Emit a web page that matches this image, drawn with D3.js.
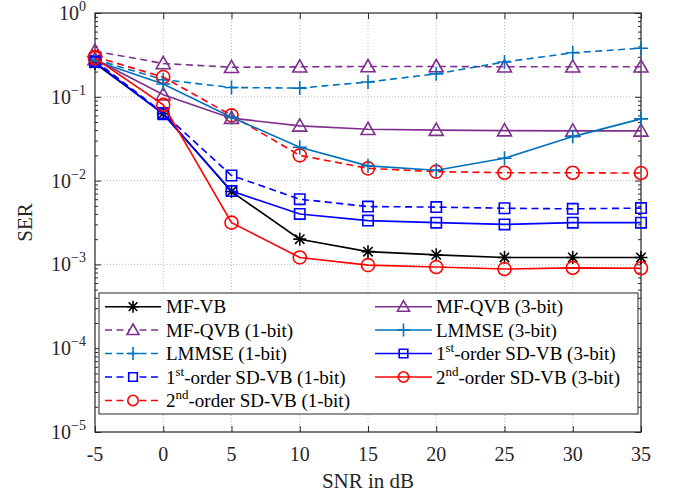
<!DOCTYPE html>
<html><head><meta charset="utf-8">
<script src="https://cdn.jsdelivr.net/npm/d3@7"></script>
<style>
html,body{margin:0;padding:0;background:#fff;}
svg, svg text{font-family:"Liberation Serif","DejaVu Serif","Times New Roman",Times,serif;}
</style></head>
<body><svg id="chart" width="677" height="493"></svg>
<script>
// ---- data ----
const snr = [-5, 0, 5, 10, 15, 20, 25, 30, 35];
const xTicks = [-5, 0, 5, 10, 15, 20, 25, 30, 35];
const yTickExps = [0, -1, -2, -3, -4, -5];

const mfVB        = [0.25, 0.063, 0.0074, 0.0020, 0.00142, 0.0013, 0.00121, 0.00121, 0.00121];
const mfQVB1      = [0.35, 0.25, 0.225, 0.228, 0.230, 0.230, 0.228, 0.228, 0.228];
const lmmse1      = [0.28, 0.16, 0.129, 0.127, 0.150, 0.188, 0.26, 0.335, 0.38];
const sd1_1       = [0.27, 0.064, 0.0115, 0.0060, 0.0049, 0.00483, 0.00468, 0.0046, 0.0047];
const sd2_1       = [0.30, 0.172, 0.060, 0.0200, 0.0140, 0.0128, 0.0124, 0.0124, 0.0123];
const mfQVB3      = [0.28, 0.106, 0.0556, 0.045, 0.041, 0.040, 0.0395, 0.0392, 0.0392];
const lmmse3      = [0.27, 0.142, 0.057, 0.0250, 0.0150, 0.0133, 0.0185, 0.0335, 0.0545];
const sd1_3       = [0.26, 0.062, 0.0075, 0.0040, 0.00333, 0.00315, 0.00300, 0.00315, 0.00315];
const sd2_3       = [0.29, 0.080, 0.00315, 0.00121, 0.00098, 0.00093, 0.00088, 0.00091, 0.00090];

const series = [
  {name:"MF-VB", values:mfVB, color:"#000000", dash:false, marker:"star"},
  {name:"MF-QVB (1-bit)", values:mfQVB1, color:"#7E2F8E", dash:true, marker:"tri"},
  {name:"LMMSE (1-bit)", values:lmmse1, color:"#0072BD", dash:true, marker:"plus"},
  {name:"1|st|-order SD-VB (1-bit)", values:sd1_1, color:"#0000FF", dash:true, marker:"square"},
  {name:"2|nd|-order SD-VB (1-bit)", values:sd2_1, color:"#FF0000", dash:true, marker:"circle"},
  {name:"MF-QVB (3-bit)", values:mfQVB3, color:"#7E2F8E", dash:false, marker:"tri"},
  {name:"LMMSE (3-bit)", values:lmmse3, color:"#0072BD", dash:false, marker:"plus"},
  {name:"1|st|-order SD-VB (3-bit)", values:sd1_3, color:"#0000FF", dash:false, marker:"square"},
  {name:"2|nd|-order SD-VB (3-bit)", values:sd2_3, color:"#FF0000", dash:false, marker:"circle"}
];

// ---- layout ----
const FONT = "'Liberation Serif','DejaVu Serif','Times New Roman',Times,serif";
const L = 95, R = 641, T = 13, B = 432;
const svg = d3.select("#chart");
const x = d3.scaleLinear().domain([-5, 35]).range([L, R]);
const y = d3.scaleLog().domain([1e-5, 1]).range([B, T]);

// grid
const grid = svg.append("g");
xTicks.slice(1, -1).forEach(t => {
  grid.append("line").attr("x1", x(t)).attr("x2", x(t)).attr("y1", T).attr("y2", B)
    .attr("stroke", "#bdbdbd").attr("stroke-width", 1).attr("stroke-dasharray", "1,2");
});
yTickExps.slice(1, -1).forEach(e => {
  grid.append("line").attr("x1", L).attr("x2", R).attr("y1", y(Math.pow(10, e))).attr("y2", y(Math.pow(10, e)))
    .attr("stroke", "#bdbdbd").attr("stroke-width", 1).attr("stroke-dasharray", "1,2");
});

// axes with inward ticks
const majorY = yTickExps.map(e => Math.pow(10, e));
const minorY = [];
for (let e = -5; e < 0; e++) for (let m = 2; m <= 9; m++) minorY.push(m * Math.pow(10, e));

function styleAxis(g) {
  g.select(".domain").remove();
  g.selectAll(".tick line").attr("stroke", "#262626").attr("stroke-width", 1);
  g.selectAll("text").remove();
}
svg.append("g").attr("transform", `translate(0,${B})`)
  .call(d3.axisBottom(x).tickValues(xTicks).tickSize(-6)).call(styleAxis);
svg.append("g").attr("transform", `translate(0,${T})`)
  .call(d3.axisTop(x).tickValues(xTicks).tickSize(-6)).call(styleAxis);
svg.append("g").attr("transform", `translate(${L},0)`)
  .call(d3.axisLeft(y).tickValues(majorY).tickSize(-6)).call(styleAxis);
svg.append("g").attr("transform", `translate(${L},0)`)
  .call(d3.axisLeft(y).tickValues(minorY).tickSize(-3)).call(styleAxis);
svg.append("g").attr("transform", `translate(${R},0)`)
  .call(d3.axisRight(y).tickValues(majorY).tickSize(-6)).call(styleAxis);
svg.append("g").attr("transform", `translate(${R},0)`)
  .call(d3.axisRight(y).tickValues(minorY).tickSize(-3)).call(styleAxis);

svg.append("rect").attr("x", L).attr("y", T).attr("width", R - L).attr("height", B - T)
  .attr("fill", "none").attr("stroke", "#262626").attr("stroke-width", 1.2);

// tick labels
xTicks.forEach(t => {
  svg.append("text").attr("x", x(t)).attr("y", 461).attr("text-anchor", "middle")
    .attr("font-family", FONT).attr("font-size", 20).attr("fill", "#262626").text(t);
});
yTickExps.forEach(e => {
  const tx = svg.append("text").attr("x", 86).attr("y", y(Math.pow(10, e)) + 7)
    .attr("text-anchor", "end").attr("fill", "#262626").attr("font-size", 20).attr("font-family", FONT);
  tx.append("tspan").text("10");
  tx.append("tspan").attr("font-size", 14).attr("dy", -9).text(e === 0 ? "0" : "\u2212" + (-e));
});
svg.append("text").attr("x", (L + R) / 2).attr("y", 488).attr("text-anchor", "middle")
  .attr("font-family", FONT).attr("font-size", 21).attr("fill", "#262626").text("SNR in dB");
svg.append("text").attr("transform", `translate(32,${(T + B) / 2}) rotate(-90)`)
  .attr("font-family", FONT).attr("text-anchor", "middle").attr("font-size", 21).attr("fill", "#262626").text("SER");

// markers
function markerPath(type, s) {
  switch (type) {
    case "plus": return `M${-s},0H${s}M0,${-s}V${s}`;
    case "star": { const d = s * 0.72; return `M${-s},0H${s}M0,${-s}V${s}M${-d},${-d}L${d},${d}M${-d},${d}L${d},${-d}`; }
    case "tri": return `M0,${-s}L${s},${s * 0.75}L${-s},${s * 0.75}Z`;
    case "square": return `M${-s},${-s}H${s}V${s}H${-s}Z`;
    case "circle": return d3.arc()({innerRadius: 0, outerRadius: s, startAngle: 0, endAngle: 2 * Math.PI});
  }
}
const mSize = {plus: 7, star: 6.5, tri: 7, square: 5.2, circle: 6.5};
const lmSize = {plus: 6.5, star: 6, tri: 6, square: 4.3, circle: 5.2};

const line = d3.line().x((d, i) => x(snr[i])).y(d => y(d));
const plot = svg.append("g");
series.forEach(s => {
  plot.append("path").datum(s.values).attr("d", line).attr("fill", "none")
    .attr("stroke", s.color).attr("stroke-width", 1.6)
    .attr("stroke-dasharray", s.dash ? "7,4.5" : null);
  plot.selectAll(null).data(s.values).enter().append("path")
    .attr("transform", (d, i) => `translate(${x(snr[i])},${y(d)})`)
    .attr("d", markerPath(s.marker, mSize[s.marker]))
    .attr("fill", "none").attr("stroke", s.color).attr("stroke-width", 1.6);
});

// legend
const lg = svg.append("g");
lg.append("rect").attr("x", 99).attr("y", 293).attr("width", 539).attr("height", 121)
  .attr("fill", "#fff").attr("stroke", "#262626").attr("stroke-width", 1);
const rowY = [306.7, 330, 353.5, 377, 400.5];
const cols = [{x0: 105, x1: 161, tx: 166}, {x0: 375, x1: 432, tx: 436}];
series.forEach((s, i) => {
  const c = i < 5 ? cols[0] : cols[1];
  const ry = i < 5 ? rowY[i] : rowY[i - 5];
  lg.append("line").attr("x1", c.x0).attr("x2", c.x1).attr("y1", ry).attr("y2", ry)
    .attr("stroke", s.color).attr("stroke-width", 1.6)
    .attr("stroke-dasharray", s.dash ? "7,4.5" : null);
  lg.append("path").attr("transform", `translate(${(c.x0 + c.x1) / 2},${ry})`)
    .attr("d", markerPath(s.marker, lmSize[s.marker]))
    .attr("fill", s.dash ? "#fff" : "none").attr("stroke", s.color).attr("stroke-width", 1.6);
  const parts = s.name.split("|");
  const t = lg.append("text").attr("x", c.tx).attr("y", ry + 6.5).attr("font-size", 19)
    .attr("font-family", FONT).attr("fill", "#000");
  if (parts.length === 1) t.text(s.name);
  else {
    t.append("tspan").text(parts[0]);
    t.append("tspan").attr("font-size", 13).attr("dy", -8).text(parts[1]);
    t.append("tspan").attr("dy", 8).text(parts[2]);
  }
});
</script></body></html>
